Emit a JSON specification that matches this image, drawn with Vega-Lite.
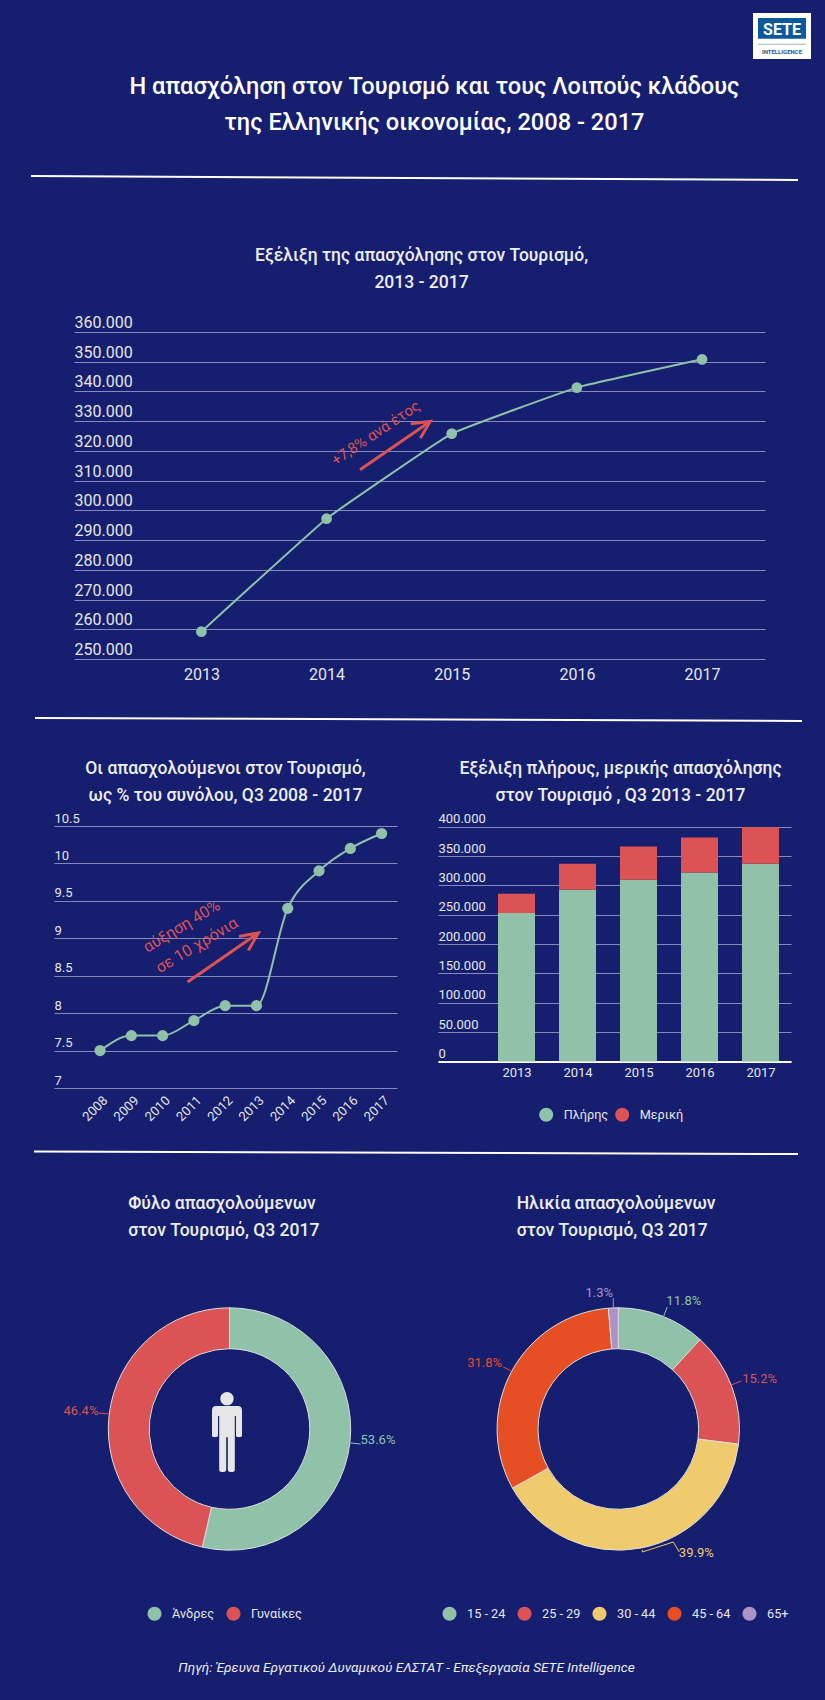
{
  "$schema": "https://vega.github.io/schema/vega-lite/v6.json",
  "background": "#151E6F",
  "padding": 0,
  "spacing": 0,
  "resolve": {"scale": {"color": "independent"}, "legend": {"color": "independent"}},
  "config": {
    "view": {"stroke": null},
    "font": "Roboto",
    "axis": {
      "labelFont": "Roboto",
      "labelColor": "#E6E6E6",
      "labelFontSize": 13,
      "labelOverlap": false,
      "labelBound": false,
      "labelFlush": false,
      "ticks": false,
      "domain": false,
      "grid": false,
      "gridColor": "#8589BC",
      "gridOpacity": 1,
      "gridWidth": 1,
      "title": null
    },
    "legend": {
      "labelFont": "Roboto",
      "labelColor": "#E6E6E6",
      "labelFontSize": 12.7,
      "symbolType": "circle",
      "symbolSize": 200,
      "symbolStrokeWidth": 0,
      "labelOffset": 10,
      "title": null,
      "padding": 0
    },
    "title": {"font": "Roboto", "color": "#EDEDED", "fontSize": 17.5, "fontWeight": 500, "lineHeight": 27, "anchor": "middle"}
  },
  "vconcat": [
    {"width": 825, "height": 13, "data": {"values": []}, "mark": "point"},
    {
      "bounds": "flush",
      "spacing": 0,
      "hconcat": [
        {"width": 753, "height": 46, "data": {"values": []}, "mark": "point"},
        {
          "width": 58,
          "height": 46,
          "encoding": {
            "x": {"field": "left", "type": "quantitative", "scale": {"domain": [0, 58]}, "axis": null},
            "y": {"field": "top", "type": "quantitative", "scale": {"domain": [46, 0]}, "axis": null}
          },
          "layer": [
            {
              "data": {"values": [{"left": 0, "right": 58, "top": 0, "bottom": 46}]},
              "mark": {"type": "rect", "color": "#FFFFFF"},
              "encoding": {"x2": {"field": "right"}, "y2": {"field": "bottom"}}
            },
            {
              "data": {"values": [{"left": 5, "right": 53, "top": 5, "bottom": 25.7}]},
              "mark": {"type": "rect", "color": "#0C5A9C"},
              "encoding": {"x2": {"field": "right"}, "y2": {"field": "bottom"}}
            },
            {
              "data": {"values": [{"left": 5, "right": 53, "top": 30.7, "bottom": 31.7}]},
              "mark": {"type": "rect", "color": "#9DB6CB"},
              "encoding": {"x2": {"field": "right"}, "y2": {"field": "bottom"}}
            },
            {
              "data": {"values": [{"left": 29, "top": 21.5, "word": "SETE"}]},
              "mark": {"type": "text", "color": "#FFFFFF", "fontSize": 16, "fontWeight": "bold", "baseline": "alphabetic"},
              "encoding": {"text": {"field": "word"}}
            },
            {
              "data": {"values": [{"left": 29, "top": 41, "word": "INTELLIGENCE"}]},
              "mark": {"type": "text", "color": "#2B5A85", "fontSize": 6, "fontWeight": "bold", "baseline": "alphabetic"},
              "encoding": {"text": {"field": "word"}}
            }
          ]
        }
      ]
    },
    {
      "width": 825,
      "height": 121,
      "title": {
        "text": ["Η απασχόληση στον Τουρισμό και τους Λοιπούς κλάδους", "της Ελληνικής οικονομίας, 2008 - 2017"],
        "color": "#FFFFFF",
        "fontSize": 23.6,
        "lineHeight": 36,
        "offset": -76,
        "dx": 22
      },
      "data": {"values": [{"across": 31, "down": 117}, {"across": 798, "down": 121}]},
      "mark": {"type": "line", "color": "#FFFFFF", "strokeWidth": 2},
      "encoding": {
        "x": {"field": "across", "type": "quantitative", "scale": {"domain": [0, 825]}, "axis": null},
        "y": {"field": "down", "type": "quantitative", "scale": {"domain": [121, 0]}, "axis": null}
      }
    },
    {"width": 825, "height": 62.3, "data": {"values": []}, "mark": "point"},
    {
      "bounds": "flush",
      "spacing": 0,
      "hconcat": [
        {"width": 74, "height": 327, "data": {"values": []}, "mark": "point"},
        {
          "width": 691,
          "height": 327,
          "title": {
            "text": ["Εξέλιξη της απασχόλησης στον Τουρισμό,", "2013 - 2017"],
            "offset": 23,
            "dx": 2
          },
          "encoding": {
            "x": {
              "field": "year",
              "type": "quantitative",
              "scale": {"domain": [2011.982, 2017.503], "nice": false, "zero": false},
              "axis": {"values": [2013, 2014, 2015, 2016, 2017], "format": "d", "labelFontSize": 16, "labelPadding": 7}
            },
            "y": {
              "field": "value",
              "type": "quantitative",
              "scale": {"domain": [250000, 360000], "nice": false, "zero": false},
              "axis": {
                "values": [250000, 260000, 270000, 280000, 290000, 300000, 310000, 320000, 330000, 340000, 350000, 360000],
                "grid": true,
                "labelExpr": "replace(format(datum.value, ','), ',', '.')",
                "labelAlign": "left",
                "labelBaseline": "alphabetic",
                "labelPadding": 0,
                "labelOffset": -4.5,
                "labelFontSize": 16
              }
            }
          },
          "layer": [
            {
              "data": {"name": "employment"},
              "mark": {"type": "line", "color": "#8FC2A9", "strokeWidth": 2, "interpolate": "cardinal", "tension": 0.75}
            },
            {
              "data": {"name": "employment"},
              "mark": {"type": "point", "filled": true, "opacity": 1, "color": "#8FC2A9", "size": 115}
            },
            {
              "data": {"values": [
                {"part": "shaft", "step": 1, "year": 2014.267, "value": 313680},
                {"part": "shaft", "step": 2, "year": 2014.828, "value": 329930},
                {"part": "head", "step": 1, "year": 2014.672, "value": 329150},
                {"part": "head", "step": 2, "year": 2014.828, "value": 329930},
                {"part": "head", "step": 3, "year": 2014.75, "value": 324340}
              ]},
              "mark": {"type": "line", "color": "#DC5356", "strokeWidth": 3},
              "encoding": {"detail": {"field": "part"}, "order": {"field": "step"}}
            },
            {
              "data": {"values": [{"year": 2014.392, "value": 326030, "note": "+7,8% ανά έτος"}]},
              "mark": {"type": "text", "color": "#DC5356", "fontSize": 15, "angle": 326},
              "encoding": {"text": {"field": "note"}}
            }
          ]
        }
      ]
    },
    {
      "width": 825,
      "height": 76.8,
      "data": {"values": [{"across": 35, "down": 36}, {"across": 802, "down": 39}]},
      "mark": {"type": "line", "color": "#FFFFFF", "strokeWidth": 2},
      "encoding": {
        "x": {"field": "across", "type": "quantitative", "scale": {"domain": [0, 825]}, "axis": null},
        "y": {"field": "down", "type": "quantitative", "scale": {"domain": [76.8, 0]}, "axis": null}
      }
    },
    {
      "bounds": "flush",
      "spacing": 0,
      "resolve": {"scale": {"color": "independent"}, "legend": {"color": "independent"}},
      "hconcat": [
        {"width": 54, "height": 262, "data": {"values": []}, "mark": "point"},
        {
          "width": 343,
          "height": 262,
          "title": {
            "text": ["Οι απασχολούμενοι στον Τουρισμό,", "ως % του συνόλου, Q3 2008 - 2017"],
            "offset": 8
          },
          "encoding": {
            "x": {
              "field": "year",
              "type": "quantitative",
              "scale": {"domain": [2006.527, 2017.493], "nice": false, "zero": false},
              "axis": {
                "values": [2008, 2009, 2010, 2011, 2012, 2013, 2014, 2015, 2016, 2017],
                "format": "d",
                "labelAngle": 315,
                "labelAlign": "right",
                "labelBaseline": "middle",
                "labelPadding": 10,
                "labelOffset": 5
              }
            },
            "y": {
              "field": "value",
              "type": "quantitative",
              "scale": {"domain": [7, 10.5], "nice": false, "zero": false},
              "axis": {
                "values": [7, 7.5, 8, 8.5, 9, 9.5, 10, 10.5],
                "format": "~g",
                "grid": true,
                "labelAlign": "left",
                "labelBaseline": "alphabetic",
                "labelPadding": 0,
                "labelOffset": -4
              }
            }
          },
          "layer": [
            {
              "data": {"name": "share"},
              "mark": {"type": "line", "color": "#8FC2A9", "strokeWidth": 2, "interpolate": "monotone"}
            },
            {
              "data": {"name": "share"},
              "mark": {"type": "point", "filled": true, "opacity": 1, "color": "#8FC2A9", "size": 125}
            },
            {
              "data": {"values": [
                {"part": "shaft", "step": 1, "year": 2010.8, "value": 8.416},
                {"part": "shaft", "step": 2, "year": 2013.06, "value": 9.071},
                {"part": "head", "step": 1, "year": 2012.44, "value": 9.025},
                {"part": "head", "step": 2, "year": 2013.06, "value": 9.071},
                {"part": "head", "step": 3, "year": 2012.74, "value": 8.838}
              ]},
              "mark": {"type": "line", "color": "#DC5356", "strokeWidth": 3},
              "encoding": {"detail": {"field": "part"}, "order": {"field": "step"}}
            },
            {
              "data": {"values": [
                {"year": 2010.61, "value": 9.159, "note": "αύξηση 40%"},
                {"year": 2011.09, "value": 8.905, "note": "σε 10 χρόνια"}
              ]},
              "mark": {"type": "text", "color": "#DC5356", "fontSize": 16, "angle": 329},
              "encoding": {"text": {"field": "note"}}
            }
          ]
        },
        {"width": 41, "height": 262, "data": {"values": []}, "mark": "point"},
        {
          "width": 353,
          "height": 235.4,
          "title": {
            "text": ["Εξέλιξη πλήρους, μερικής απασχόλησης", "στον Τουρισμό , Q3 2013 - 2017"],
            "offset": 8,
            "dx": 6
          },
          "data": {"values": [
            {"year": 2013, "kind": "Πλήρης", "rank": 1, "people": 253000},
            {"year": 2013, "kind": "Μερική", "rank": 2, "people": 32700},
            {"year": 2014, "kind": "Πλήρης", "rank": 1, "people": 292600},
            {"year": 2014, "kind": "Μερική", "rank": 2, "people": 44400},
            {"year": 2015, "kind": "Πλήρης", "rank": 1, "people": 309700},
            {"year": 2015, "kind": "Μερική", "rank": 2, "people": 56600},
            {"year": 2016, "kind": "Πλήρης", "rank": 1, "people": 321700},
            {"year": 2016, "kind": "Μερική", "rank": 2, "people": 60000},
            {"year": 2017, "kind": "Πλήρης", "rank": 1, "people": 337000},
            {"year": 2017, "kind": "Μερική", "rank": 2, "people": 61900}
          ]},
          "mark": {"type": "bar", "size": 37, "orient": "vertical"},
          "encoding": {
            "x": {
              "field": "year",
              "type": "quantitative",
              "scale": {"domain": [2011.713, 2017.5], "nice": false, "zero": false, "padding": 0},
              "axis": {
                "values": [2013, 2014, 2015, 2016, 2017],
                "format": "d",
                "labelPadding": 5,
                "domain": true,
                "domainColor": "#FFFFFF",
                "domainWidth": 2
              }
            },
            "y": {
              "field": "people",
              "type": "quantitative",
              "stack": "zero",
              "scale": {"domain": [0, 401140], "nice": false},
              "axis": {
                "values": [0, 50000, 100000, 150000, 200000, 250000, 300000, 350000, 400000],
                "grid": true,
                "labelExpr": "replace(format(datum.value, ','), ',', '.')",
                "labelAlign": "left",
                "labelBaseline": "alphabetic",
                "labelPadding": 0,
                "labelOffset": -4
              }
            },
            "color": {
              "field": "kind",
              "type": "nominal",
              "scale": {"domain": ["Πλήρης", "Μερική"], "range": ["#8FC2A9", "#DC5356"]},
              "legend": {"orient": "none", "direction": "horizontal", "legendX": 100.7, "legendY": 281, "columnPadding": 6}
            },
            "order": {"field": "rank"}
          }
        }
      ]
    },
    {
      "width": 825,
      "height": 69.2,
      "data": {"values": [{"across": 34, "down": 27.5}, {"across": 798, "down": 30}]},
      "mark": {"type": "line", "color": "#FFFFFF", "strokeWidth": 2},
      "encoding": {
        "x": {"field": "across", "type": "quantitative", "scale": {"domain": [0, 825]}, "axis": null},
        "y": {"field": "down", "type": "quantitative", "scale": {"domain": [69.2, 0]}, "axis": null}
      }
    },
    {
      "bounds": "flush",
      "spacing": 0,
      "resolve": {"scale": {"color": "independent"}, "legend": {"color": "independent"}},
      "hconcat": [
        {
          "width": 459,
          "height": 300,
          "title": {
            "text": ["Φύλο απασχολούμενων", "στον Τουρισμό, Q3 2017"],
            "anchor": "start",
            "align": "left",
            "dx": 128.3,
            "offset": 40
          },
          "layer": [
            {
              "data": {"values": [
                {"gender": "Άνδρες", "rank": 1, "percent": 53.6},
                {"gender": "Γυναίκες", "rank": 2, "percent": 46.4}
              ]},
              "mark": {"type": "arc", "radius": 121.2, "innerRadius": 80.3, "stroke": "#DDDDDD", "strokeWidth": 1},
              "encoding": {
                "theta": {"field": "percent", "type": "quantitative", "stack": true},
                "color": {
                  "field": "gender",
                  "type": "nominal",
                  "scale": {"domain": ["Άνδρες", "Γυναίκες"], "range": ["#8FC2A9", "#DC5356"]},
                  "legend": {"orient": "none", "direction": "horizontal", "legendX": 147, "legendY": 327, "columnPadding": 11}
                },
                "order": {"field": "rank"}
              }
            },
            {
              "data": {"values": [{"east": -2.5, "south": 3}]},
              "mark": {
                "type": "point",
                "filled": true,
                "opacity": 1,
                "color": "#E6E6E6",
                "size": 6400,
                "shape": "M0 -1 A.167 .167 0 1 1 0 -.666 A.167 .167 0 1 1 0 -1 Z M-.27 -.65 H.27 Q.375 -.65 .375 -.54 V.09 Q.375 .13 .3 .13 Q.225 .13 .225 .09 V-.4 H.195 V.95 Q.195 1 .11 1 Q.03 1 .02 .95 V.13 H-.02 V.95 Q-.03 1 -.11 1 Q-.195 1 -.195 .95 V-.4 H-.225 V.09 Q-.225 .13 -.3 .13 Q-.375 .13 -.375 .09 V-.54 Q-.375 -.65 -.27 -.65 Z"
              },
              "encoding": {
                "x": {"field": "east", "type": "quantitative", "scale": {"domain": [-229.5, 229.5]}, "axis": null},
                "y": {"field": "south", "type": "quantitative", "scale": {"domain": [150, -150]}, "axis": null}
              }
            },
            {
              "data": {"values": [
                {"gender": "Άνδρες", "step": 1, "east": 121, "south": 14},
                {"gender": "Άνδρες", "step": 2, "east": 131, "south": 15},
                {"gender": "Γυναίκες", "step": 1, "east": -121, "south": -15},
                {"gender": "Γυναίκες", "step": 2, "east": -131, "south": -16}
              ]},
              "mark": {"type": "line", "strokeWidth": 1},
              "encoding": {
                "x": {"field": "east", "type": "quantitative", "scale": {"domain": [-229.5, 229.5]}, "axis": null},
                "y": {"field": "south", "type": "quantitative", "scale": {"domain": [150, -150]}, "axis": null},
                "color": {"field": "gender", "type": "nominal"},
                "order": {"field": "step"}
              }
            },
            {
              "data": {"values": [
                {"gender": "Άνδρες", "east": 148.5, "south": 10.6, "label": "53.6%"},
                {"gender": "Γυναίκες", "east": -148.5, "south": -18.5, "label": "46.4%"}
              ]},
              "mark": {"type": "text", "fontSize": 13},
              "encoding": {
                "x": {"field": "east", "type": "quantitative", "scale": {"domain": [-229.5, 229.5]}, "axis": null},
                "y": {"field": "south", "type": "quantitative", "scale": {"domain": [150, -150]}, "axis": null},
                "color": {"field": "gender", "type": "nominal"},
                "text": {"field": "label"}
              }
            }
          ]
        },
        {
          "width": 318.6,
          "height": 300,
          "title": {
            "text": ["Ηλικία απασχολούμενων", "στον Τουρισμό, Q3 2017"],
            "anchor": "start",
            "align": "left",
            "dx": 74.7,
            "offset": 40
          },
          "layer": [
            {
              "data": {"values": [
                {"age": "15 - 24", "rank": 1, "percent": 11.8},
                {"age": "25 - 29", "rank": 2, "percent": 15.2},
                {"age": "30 - 44", "rank": 3, "percent": 39.9},
                {"age": "45 - 64", "rank": 4, "percent": 31.8},
                {"age": "65+", "rank": 5, "percent": 1.3}
              ]},
              "mark": {"type": "arc", "radius": 121.2, "innerRadius": 80.3, "stroke": "#DDDDDD", "strokeWidth": 1},
              "encoding": {
                "theta": {"field": "percent", "type": "quantitative", "stack": true},
                "color": {
                  "field": "age",
                  "type": "nominal",
                  "scale": {
                    "domain": ["15 - 24", "25 - 29", "30 - 44", "45 - 64", "65+"],
                    "range": ["#8FC2A9", "#DC5356", "#EFCB6E", "#E64F24", "#AC92C6"]
                  },
                  "legend": {"orient": "none", "direction": "horizontal", "columns": 5, "gridAlign": "all", "legendX": -17, "legendY": 327, "columnPadding": 11}
                },
                "order": {"field": "rank"}
              }
            },
            {
              "data": {"values": [
                {"age": "15 - 24", "step": 1, "east": 45, "south": -112},
                {"age": "15 - 24", "step": 2, "east": 49, "south": -122},
                {"age": "25 - 29", "step": 1, "east": 113, "south": -44},
                {"age": "25 - 29", "step": 2, "east": 123, "south": -48},
                {"age": "30 - 44", "step": 1, "east": 24, "south": 121},
                {"age": "30 - 44", "step": 2, "east": 24, "south": 123},
                {"age": "30 - 44", "step": 3, "east": 55, "south": 113},
                {"age": "30 - 44", "step": 4, "east": 61, "south": 123},
                {"age": "45 - 64", "step": 1, "east": -107, "south": -58},
                {"age": "45 - 64", "step": 2, "east": -115, "south": -62},
                {"age": "65+", "step": 1, "east": -5, "south": -121},
                {"age": "65+", "step": 2, "east": -5, "south": -131}
              ]},
              "mark": {"type": "line", "strokeWidth": 1},
              "encoding": {
                "x": {"field": "east", "type": "quantitative", "scale": {"domain": [-159.3, 159.3]}, "axis": null},
                "y": {"field": "south", "type": "quantitative", "scale": {"domain": [150, -150]}, "axis": null},
                "color": {"field": "age", "type": "nominal"},
                "order": {"field": "step"}
              }
            },
            {
              "data": {"values": [
                {"age": "15 - 24", "east": 65.5, "south": -127.6, "label": "11.8%"},
                {"age": "25 - 29", "east": 141.4, "south": -49.6, "label": "15.2%"},
                {"age": "30 - 44", "east": 78, "south": 124, "label": "39.9%"},
                {"age": "45 - 64", "east": -133.6, "south": -66.4, "label": "31.8%"},
                {"age": "65+", "east": -19, "south": -135.7, "label": "1.3%"}
              ]},
              "mark": {"type": "text", "fontSize": 13},
              "encoding": {
                "x": {"field": "east", "type": "quantitative", "scale": {"domain": [-159.3, 159.3]}, "axis": null},
                "y": {"field": "south", "type": "quantitative", "scale": {"domain": [150, -150]}, "axis": null},
                "color": {"field": "age", "type": "nominal"},
                "text": {"field": "label"}
              }
            }
          ]
        }
      ]
    },
    {
      "width": 813,
      "height": 90,
      "title": {
        "text": "Πηγή: Έρευνα Εργατικού Δυναμικού ΕΛΣΤΑΤ - Επεξεργασία SETE Intelligence",
        "fontSize": 13.6,
        "fontWeight": 400,
        "fontStyle": "italic",
        "offset": -54
      },
      "data": {"values": []},
      "mark": "point"
    }
  ],
  "datasets": {
    "employment": [
      {"year": 2013, "value": 259200},
      {"year": 2014, "value": 297200},
      {"year": 2015, "value": 325800},
      {"year": 2016, "value": 341300},
      {"year": 2017, "value": 350800}
    ],
    "share": [
      {"year": 2008, "value": 7.5},
      {"year": 2009, "value": 7.7},
      {"year": 2010, "value": 7.7},
      {"year": 2011, "value": 7.9},
      {"year": 2012, "value": 8.1},
      {"year": 2013, "value": 8.1},
      {"year": 2014, "value": 9.4},
      {"year": 2015, "value": 9.9},
      {"year": 2016, "value": 10.2},
      {"year": 2017, "value": 10.4}
    ]
  }
}
